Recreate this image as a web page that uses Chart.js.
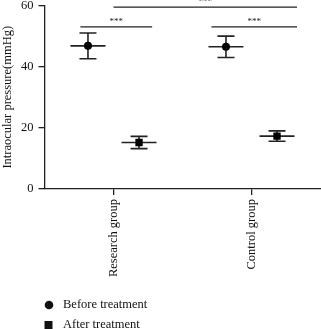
<!DOCTYPE html>
<html lang="en">
<head>
    <meta charset="UTF-8">
    <title>Intraocular pressure</title>
    <script src="https://cdn.jsdelivr.net/npm/chart.js"></script>
    <style>
        body { margin: 0; background: #fff; }
    </style>
</head>
<body>
    <canvas id="iopChart" width="321" height="329"></canvas>
    <script>
        // groups on the x axis
        const groups = ['Research group', 'Control group'];
        // mean +/- sd
        const beforeMean = [46.8, 46.5];
        const beforeSd = [4.2, 3.5];
        const afterMean = [15.2, 17.3];
        const afterSd = [2.0, 1.7];
        const seriesNames = ['Before treatment', 'After treatment'];
        // significance brackets: [from x, to x, at y, label]
        const brackets = [
            [-0.24, 0.28, 53, '***'],
            [0.71, 1.33, 53, '***'],
            [0.0, 1.33, 59.5, '***']
        ];

        const shift = 0.185;
        const ink = '#222';
        const fontFamily = '"Liberation Serif", "DejaVu Serif", serif';

        function points(means, dx) {
            return means.map((m, i) => ({ x: i + dx, y: m }));
        }

        // error bars, mean lines, brackets and legend
        const extras = {
            id: 'extras',
            beforeDatasetsDraw(chart) {
                const ctx = chart.ctx;
                const xs = chart.scales.x, ys = chart.scales.y;
                ctx.save();
                ctx.strokeStyle = ink;
                ctx.lineWidth = 1.6;
                [[beforeMean, beforeSd, -shift], [afterMean, afterSd, shift]].forEach(([m, sd, dx]) => {
                    m.forEach((v, i) => {
                        const px = xs.getPixelForValue(i + dx);
                        const top = ys.getPixelForValue(v + sd[i]);
                        const bot = ys.getPixelForValue(v - sd[i]);
                        const mid = ys.getPixelForValue(v);
                        ctx.beginPath();
                        ctx.moveTo(px, top); ctx.lineTo(px, bot);
                        ctx.moveTo(px - 8.5, top); ctx.lineTo(px + 8.5, top);
                        ctx.moveTo(px - 8.5, bot); ctx.lineTo(px + 8.5, bot);
                        ctx.moveTo(px - 17.5, mid); ctx.lineTo(px + 17.5, mid);
                        ctx.stroke();
                    });
                });
                ctx.restore();
            },
            afterDraw(chart) {
                const ctx = chart.ctx;
                const xs = chart.scales.x, ys = chart.scales.y;
                ctx.save();
                ctx.strokeStyle = ink;
                ctx.fillStyle = ink;
                ctx.lineWidth = 1.3;
                ctx.font = '9px ' + fontFamily;
                ctx.textAlign = 'center';
                ctx.textBaseline = 'bottom';
                brackets.forEach(([a, b, y, label]) => {
                    const x1 = xs.getPixelForValue(a), x2 = xs.getPixelForValue(b);
                    const py = ys.getPixelForValue(y);
                    ctx.beginPath();
                    ctx.moveTo(x1, py); ctx.lineTo(x2, py);
                    ctx.stroke();
                    ctx.fillText(label, (x1 + x2) / 2, py - 1);
                });

                // legend, stacked
                ctx.fillStyle = '#111';
                ctx.font = '12.5px ' + fontFamily;
                ctx.textAlign = 'left';
                ctx.textBaseline = 'middle';
                ctx.beginPath();
                ctx.arc(49, 305, 4.3, 0, Math.PI * 2);
                ctx.fill();
                ctx.fillText(seriesNames[0], 63, 305);
                ctx.fillRect(44.5, 321, 8, 8);
                ctx.fillText(seriesNames[1], 63, 325);
                ctx.restore();
            }
        };

        const config = {
            type: 'scatter',
            data: {
                datasets: [{
                    label: seriesNames[0],
                    data: points(beforeMean, -shift),
                    pointStyle: 'circle',
                    pointRadius: 4,
                    backgroundColor: '#000',
                    borderColor: '#000',
                    borderWidth: 0
                }, {
                    label: seriesNames[1],
                    data: points(afterMean, shift),
                    pointStyle: 'rect',
                    pointRadius: 5.2,
                    backgroundColor: '#000',
                    borderColor: '#000',
                    borderWidth: 0
                }]
            },
            options: {
                responsive: false,
                animation: false,
                layout: { autoPadding: false, padding: { top: 5.5, right: 0.5, left: 0, bottom: 0 } },
                plugins: {
                    legend: { display: false },
                    tooltip: { enabled: false }
                },
                scales: {
                    x: {
                        type: 'linear',
                        min: -0.5,
                        max: 1.5,
                        afterBuildTicks: (scale) => {
                            scale.ticks = groups.map((g, i) => ({ value: i }));
                        },
                        afterFit: (scale) => {
                            scale.height = 140;
                            scale.paddingLeft = 0;
                            scale.paddingRight = 0;
                        },
                        ticks: {
                            autoSkip: false,
                            minRotation: 90,
                            maxRotation: 90,
                            padding: 4,
                            color: '#111',
                            font: { family: fontFamily, size: 12.5 },
                            callback: (v) => groups[v]
                        },
                        grid: { drawOnChartArea: false, tickLength: 6, color: ink, lineWidth: 1.3 },
                        border: { color: ink, width: 1.3 }
                    },
                    y: {
                        min: 0,
                        max: 60,
                        afterFit: (scale) => {
                            scale.width = 44.5;
                            scale.paddingTop = 0;
                            scale.paddingBottom = 0;
                        },
                        ticks: {
                            stepSize: 20,
                            padding: 5,
                            color: '#111',
                            font: { family: fontFamily, size: 12.5 }
                        },
                        title: {
                            display: true,
                            text: 'Intraocular pressure(mmHg)',
                            color: '#111',
                            padding: { top: 0, bottom: 2 },
                            font: { family: fontFamily, size: 12.5 }
                        },
                        grid: { drawOnChartArea: false, tickLength: 6, color: ink, lineWidth: 1.3 },
                        border: { color: ink, width: 1.3 }
                    }
                }
            },
            plugins: [extras]
        };

        new Chart(document.getElementById('iopChart'), config);
    </script>
</body>
</html>
